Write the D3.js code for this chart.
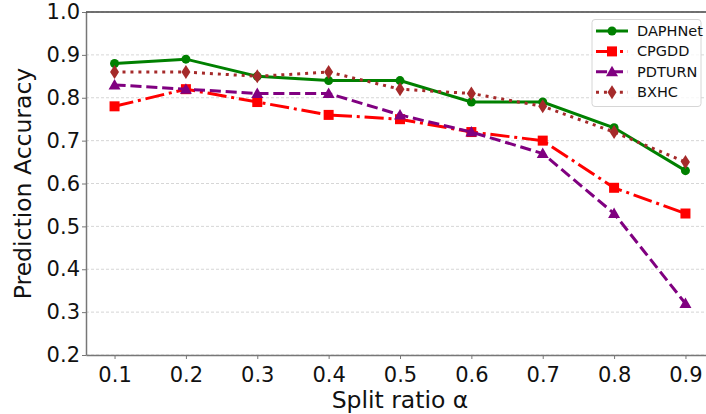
<!DOCTYPE html>
<html>
<head>
<meta charset="utf-8">
<script src="https://cdn.jsdelivr.net/npm/d3@7"></script>
<style>
  body { margin: 0; background: #fff; }
  svg { font-family: "DejaVu Sans", sans-serif; }
</style>
</head>
<body>
<div id="chart"></div>
<script>
// Chart data
const ratios = [0.1, 0.2, 0.3, 0.4, 0.5, 0.6, 0.7, 0.8, 0.9];
const daphnet = [0.88, 0.89, 0.85, 0.84, 0.84, 0.79, 0.79, 0.73, 0.63];
const cpgdd = [0.78, 0.82, 0.79, 0.76, 0.75, 0.72, 0.70, 0.59, 0.53];
const pdturn = [0.83, 0.82, 0.81, 0.81, 0.76, 0.72, 0.67, 0.53, 0.32];
const bxhc = [0.86, 0.86, 0.85, 0.86, 0.82, 0.81, 0.78, 0.72, 0.65];
const yTicks = [0.2, 0.3, 0.4, 0.5, 0.6, 0.7, 0.8, 0.9, 1.0];

const width = 706;
const height = 414;
const margin = { top: 12, right: -8, bottom: 59, left: 86 };

const series = [
  { name: "DAPHNet", values: daphnet, color: "green", dash: null, marker: "circle" },
  { name: "CPGDD", values: cpgdd, color: "red", dash: "19.2,4.8,3,4.8", marker: "square" },
  { name: "PDTURN", values: pdturn, color: "purple", dash: "11.1,4.8", marker: "triangle" },
  { name: "BXHC", values: bxhc, color: "brown", dash: "3,4.95", marker: "diamond" }
];

const svg = d3.select("#chart")
  .append("svg")
  .attr("width", width)
  .attr("height", height);

const x = d3.scaleLinear()
  .domain([0.06, 0.94])
  .range([margin.left, width - margin.right]);

const y = d3.scaleLinear()
  .domain([0.2, 1.0])
  .range([height - margin.bottom, margin.top]);

// Grid lines
svg.append("g")
  .selectAll("line")
  .data(yTicks)
  .join("line")
  .attr("x1", x.range()[0])
  .attr("x2", x.range()[1])
  .attr("y1", d => y(d))
  .attr("y2", d => y(d))
  .attr("stroke", "#cccccc")
  .attr("stroke-width", 0.8)
  .attr("stroke-dasharray", "3,2");

// Axes
const xAxis = svg.append("g")
  .attr("transform", `translate(0,${y(0.2)})`)
  .call(d3.axisBottom(x).tickValues(ratios).tickFormat(d3.format(".1f")).tickSize(4).tickSizeOuter(0));

const yAxis = svg.append("g")
  .attr("transform", `translate(${x(0.06)},0)`)
  .call(d3.axisLeft(y).tickValues(yTicks).tickFormat(d3.format(".1f")).tickSize(4).tickSizeOuter(0));

[xAxis, yAxis].forEach(g => {
  g.select(".domain").attr("stroke", "#777").attr("stroke-width", 1.5);
  g.selectAll(".tick line").attr("stroke", "#777");
  g.selectAll(".tick text")
    .attr("fill", "#111")
    .style("font-size", "21px")
    .style("font-family", "DejaVu Sans, sans-serif");
});
xAxis.selectAll(".tick text").attr("dy", "0.95em");
yAxis.selectAll(".tick text").attr("x", -6);

// top spine
svg.append("line")
  .attr("x1", x.range()[0])
  .attr("x2", x.range()[1])
  .attr("y1", y(1.0))
  .attr("y2", y(1.0))
  .attr("stroke", "#444")
  .attr("stroke-width", 1.5);

// Axis labels
svg.append("text")
  .attr("x", (x(0.1) + x(0.9)) / 2)
  .attr("y", 408)
  .attr("text-anchor", "middle")
  .style("font-size", "23.5px")
  .attr("fill", "#111")
  .text("Split ratio α");

svg.append("text")
  .attr("transform", `translate(31,${(y(0.2) + y(1.0)) / 2}) rotate(-90)`)
  .attr("text-anchor", "middle")
  .style("font-size", "23.5px")
  .attr("fill", "#111")
  .text("Prediction Accuracy");

// Marker drawing helper
function drawMarker(g, type, color) {
  if (type === "circle") {
    g.append("circle").attr("r", 4.5).attr("fill", color);
  } else if (type === "square") {
    g.append("rect").attr("x", -5).attr("y", -5).attr("width", 10).attr("height", 10).attr("fill", color);
  } else if (type === "triangle") {
    g.append("path").attr("d", "M0,-6L6,4.5L-6,4.5Z").attr("fill", color);
  } else {
    g.append("path").attr("d", "M0,-7L4.5,0L0,7L-4.5,0Z").attr("fill", color);
  }
}

const line = d3.line()
  .x((d, i) => x(ratios[i]))
  .y(d => y(d));

series.forEach(s => {
  svg.append("path")
    .datum(s.values)
    .attr("fill", "none")
    .attr("stroke", s.color)
    .attr("stroke-width", 3)
    .attr("stroke-dasharray", s.dash)
    .attr("d", line);

  s.values.forEach((v, i) => {
    const g = svg.append("g").attr("transform", `translate(${x(ratios[i])},${y(v)})`);
    drawMarker(g, s.marker, s.color);
  });
});

// Legend
const legend = svg.append("g").attr("transform", "translate(592,19.5)");
legend.append("rect")
  .attr("width", 109)
  .attr("height", 87)
  .attr("rx", 3)
  .attr("fill", "#fff")
  .attr("fill-opacity", 0.8)
  .attr("stroke", "#d6d6d6");

series.forEach((s, i) => {
  const row = legend.append("g").attr("transform", `translate(0,${11.5 + i * 20.4})`);
  row.append("line")
    .attr("x1", 4)
    .attr("x2", 36)
    .attr("stroke", s.color)
    .attr("stroke-width", 3)
    .attr("stroke-dasharray", s.dash);
  const m = row.append("g").attr("transform", "translate(20,0)");
  drawMarker(m, s.marker, s.color);
  row.append("text")
    .attr("x", 45)
    .attr("dy", "0.35em")
    .style("font-size", "14.5px")
    .attr("fill", "#111")
    .text(s.name);
});
</script>
</body>
</html>
